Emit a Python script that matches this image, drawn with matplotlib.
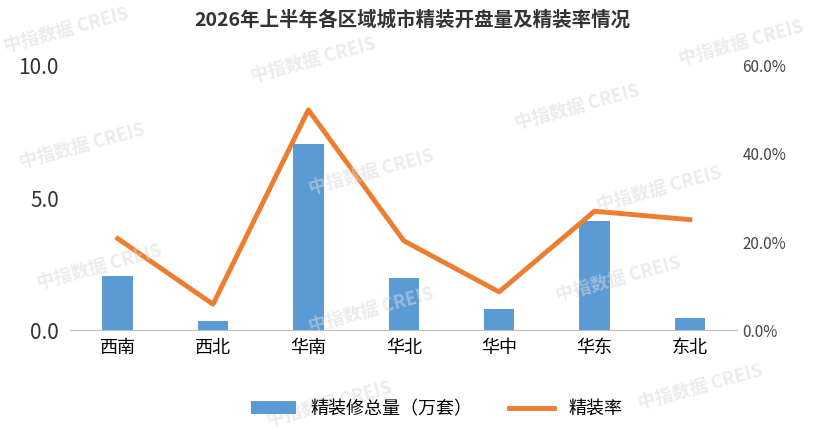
import matplotlib
matplotlib.use("Agg")
import matplotlib.pyplot as plt
from matplotlib.ticker import FuncFormatter

plt.rcParams['font.family'] = ['Noto Sans CJK SC', 'DejaVu Sans']

regions = ['西南', '西北', '华南', '华北', '华中', '华东', '东北']
volume = [2.05, 0.35, 7.05, 1.97, 0.8, 4.13, 0.45]
rate = [20.8, 5.9, 50.0, 20.3, 8.7, 27.0, 25.1]

fig = plt.figure(figsize=(8.24, 4.30), dpi=100)
ax = fig.add_axes([0.085, 0.232, 0.81, 0.615])
ax2 = ax.twinx()
x = range(len(regions))
b = ax.bar(x, volume, width=0.32, color='#5B9BD5', label='精装修总量（万套）')
l, = ax2.plot(x, rate, color='#ED7D31', lw=3.5, label='精装率')
ax.set_ylim(0, 10)
ax.set_yticks([0, 5, 10])
ax.yaxis.set_major_formatter(FuncFormatter(lambda v, p: f'{v:.1f}'))
ax2.set_ylim(0, 60)
ax2.set_yticks([0, 20, 40, 60])
ax2.yaxis.set_major_formatter(FuncFormatter(lambda v, p: f'{v:.1f}%'))
ax.set_xlim(-0.5, 6.5)
ax.set_xticks(list(x))
ax.set_xticklabels(regions, fontsize=13)
ax.tick_params(axis='y', labelsize=15, length=0, colors='#333333', pad=8)
ax2.tick_params(axis='y', labelsize=11, length=0, colors='#444444')
ax.tick_params(axis='x', length=0, pad=6)
for a in (ax, ax2):
    for s in a.spines.values():
        s.set_visible(False)
ax.spines['bottom'].set_visible(True)
ax.spines['bottom'].set_color('#BFBFBF')
fig.suptitle('2026年上半年各区域城市精装开盘量及精装率情况', y=0.975, fontsize=14, fontweight='bold', color='#333333')
fig.legend([b, l], ['精装修总量（万套）', '精装率'], loc='lower center', ncol=2, frameon=False,
           fontsize=13, bbox_to_anchor=(0.53, -0.01), handlelength=2.5)
for (wx, wy) in [(0.08, 0.93), (0.38, 0.86), (0.7, 0.75), (0.1, 0.66), (0.45, 0.6), (0.8, 0.56),
                 (0.12, 0.38), (0.45, 0.28), (0.75, 0.35), (0.4, 0.06), (0.85, 0.1), (0.9, 0.9)]:
    fig.text(wx, wy, '中指数据 CREIS', rotation=15, fontsize=13, color='#D9D9D9', alpha=0.5,
             fontweight='bold', ha='center', va='center', zorder=0)
fig.savefig('out.png', dpi=100)
